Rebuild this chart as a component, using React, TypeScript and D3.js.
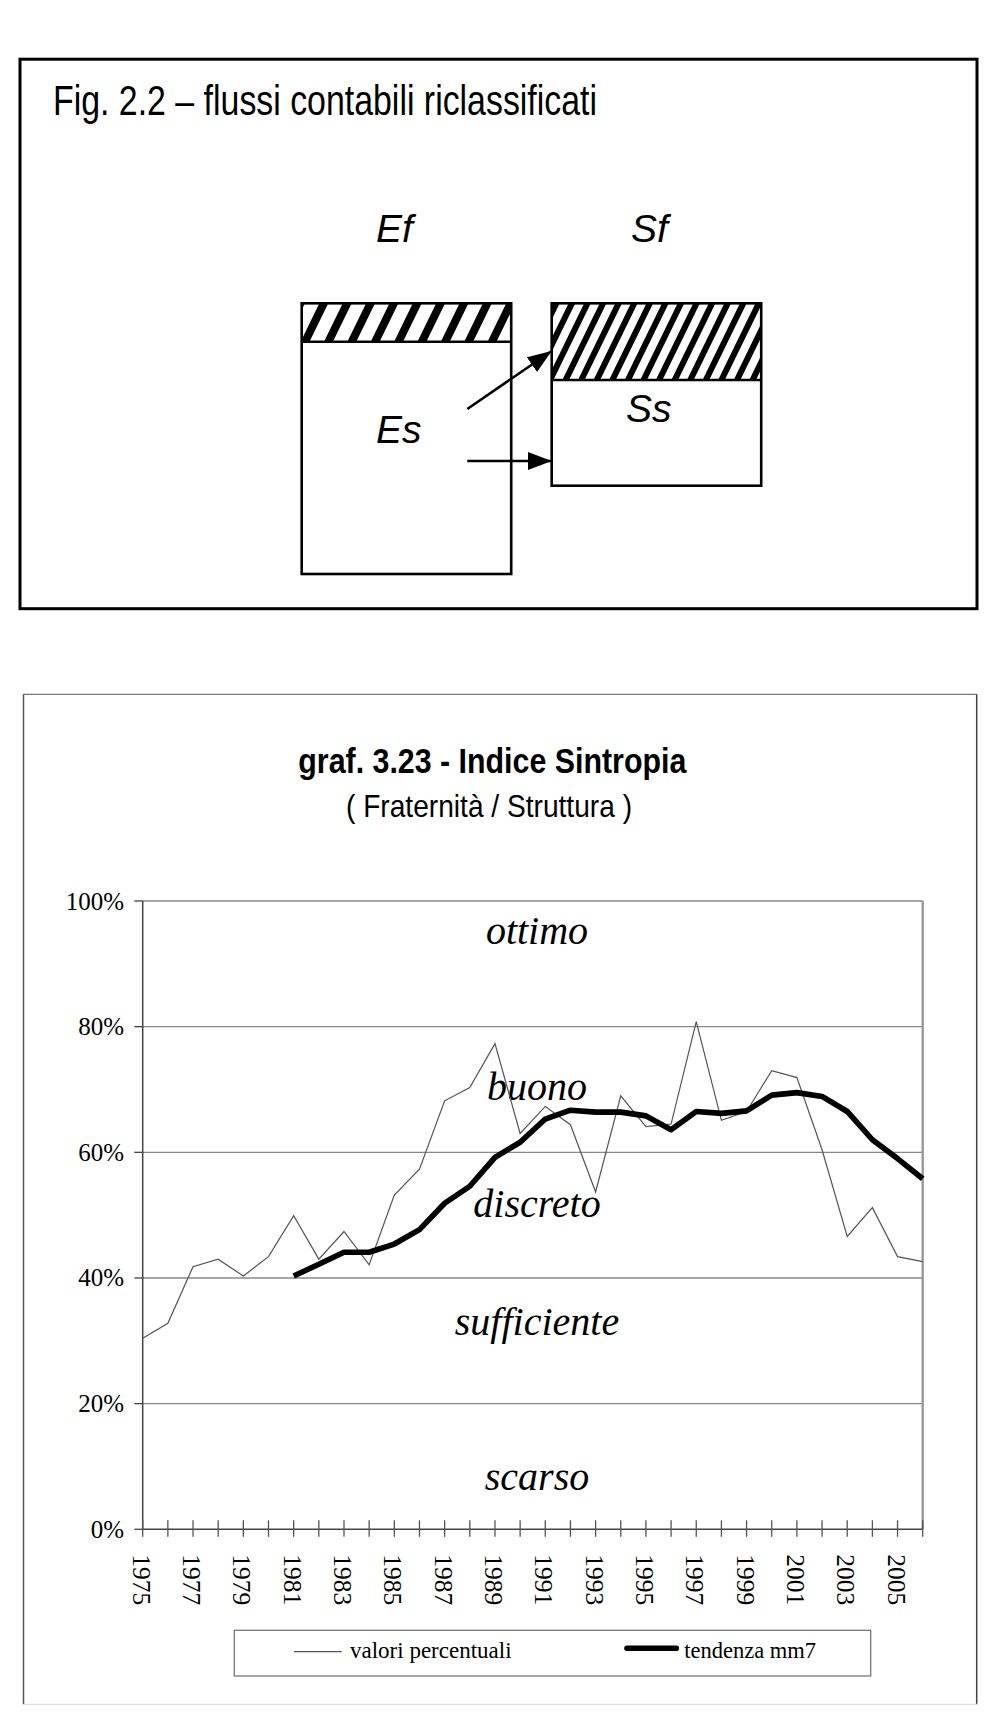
import * as d3 from 'd3'

// years on the category axis, one point per year
const years = d3.range(1975, 2007)
const yearLabels = years.filter(y => y % 2 === 1)

// thin line: yearly percentages
const valori = [
  30.4, 32.8, 41.8, 43.0, 40.3, 43.4, 49.9, 43.0, 47.4, 42.1,
  53.2, 57.3, 68.2, 70.3, 77.3, 63.0, 67.3, 64.4, 53.7, 69.0,
  64.1, 64.5, 80.8, 65.1, 66.5, 73.0, 71.9, 60.4, 46.6, 51.2,
  43.4, 42.6,
]

// thick line: 7-year moving average, starts in 1981
const tendenza: (number | null)[] = [
  null, null, null, null, null, null,
  40.3, 42.2, 44.1, 44.1, 45.4, 47.7, 51.9, 54.6, 59.2, 61.6,
  65.3, 66.7, 66.4, 66.4, 65.8, 63.6, 66.5, 66.2, 66.6, 69.1,
  69.5, 68.9, 66.5, 62.0, 59.0, 55.8,
]

const yTicks = [0, 20, 40, 60, 80, 100]

const bands = [
  { label: 'ottimo', at: 93.2 },
  { label: 'buono', at: 68.4 },
  { label: 'discreto', at: 49.7 },
  { label: 'sufficiente', at: 30.9 },
  { label: 'scarso', at: 6.2 },
]

const serif = '"Liberation Serif", "Times New Roman", serif'
const sans = '"Liberation Sans", Arial, sans-serif'
const narrow = '"Liberation Sans Narrow", "Arial Narrow", "Liberation Sans", Arial, sans-serif'

const FlowFigure = () => {
  return (
    <g>
      <defs>
        <pattern id="hatchA" patternUnits="userSpaceOnUse" width={21} height={40} patternTransform="rotate(26)">
          <rect x={0} y={0} width={8} height={40} fill="#000" />
        </pattern>
        <pattern id="hatchB" patternUnits="userSpaceOnUse" width={14} height={40} patternTransform="rotate(26)">
          <rect x={0} y={0} width={6} height={40} fill="#000" />
        </pattern>
        <marker id="arrow" markerUnits="userSpaceOnUse" markerWidth={24} markerHeight={18}
          refX={24} refY={9} orient="auto">
          <path d="M0,0 L24,9 L0,18 Z" fill="#000" />
        </marker>
      </defs>

      <rect x={20} y={59.2} width={957} height={549.5} fill="none" stroke="#000" strokeWidth={3} />
      <text x={53} y={115} fontFamily={narrow} fontSize={42} textLength={544} lengthAdjust="spacingAndGlyphs">
        Fig. 2.2 – flussi contabili riclassificati
      </text>

      <text x={376} y={242} fontFamily={sans} fontStyle="italic" fontSize={39}>Ef</text>
      <text x={631} y={242} fontFamily={sans} fontStyle="italic" fontSize={39}>Sf</text>

      {/* left box */}
      <rect x={301.7} y={303.3} width={209.5} height={38.4} fill="url(#hatchA)" />
      <rect x={301.7} y={303.3} width={209.5} height={270.7} fill="none" stroke="#000" strokeWidth={2.6} />
      <line x1={301.7} x2={511.2} y1={341.7} y2={341.7} stroke="#000" strokeWidth={2.6} />
      <text x={376} y={442.7} fontFamily={sans} fontStyle="italic" fontSize={39}>Es</text>

      {/* right box */}
      <rect x={551.7} y={303.3} width={209.5} height={76.7} fill="url(#hatchB)" />
      <rect x={551.7} y={303.3} width={209.5} height={182.4} fill="none" stroke="#000" strokeWidth={2.6} />
      <line x1={551.7} x2={761.2} y1={380} y2={380} stroke="#000" strokeWidth={2.6} />
      <text x={626} y={421.7} fontFamily={sans} fontStyle="italic" fontSize={39}>Ss</text>

      <line x1={467.3} y1={409} x2={551.7} y2={351} stroke="#000" strokeWidth={2.6} markerEnd="url(#arrow)" />
      <line x1={467.3} y1={461} x2={551.7} y2={461} stroke="#000" strokeWidth={2.6} markerEnd="url(#arrow)" />
    </g>
  )
}

const SintropiaChart = () => {
  const x = d3.scaleLinear().domain([1975, 2006]).range([142.7, 922.7])
  const y = d3.scaleLinear().domain([0, 100]).range([1529.3, 901])

  const thin = d3.line<number>()
    .x((_, i) => x(years[i]))
    .y(d => y(d))
  const thick = d3.line<number | null>()
    .defined(d => d !== null)
    .x((_, i) => x(years[i]))
    .y(d => y(d as number))

  const left = x.range()[0]
  const right = x.range()[1]
  const bottom = y(0)
  const mid = 537

  return (
    <g>
      {/* outer chart frame */}
      <line x1={23.5} x2={976.7} y1={694.3} y2={694.3} stroke="#777" strokeWidth={1.3} />
      <line x1={23.5} x2={23.5} y1={694.3} y2={1704.3} stroke="#555" strokeWidth={1.5} />
      <line x1={976.7} x2={976.7} y1={694.3} y2={1704.3} stroke="#444" strokeWidth={1.5} />
      <line x1={23.5} x2={976.7} y1={1704.3} y2={1704.3} stroke="#ddd" strokeWidth={1.3} />

      <text x={492.3} y={773.3} textAnchor="middle" fontFamily={sans} fontWeight="bold" fontSize={35}
        textLength={388} lengthAdjust="spacingAndGlyphs">
        graf. 3.23 - Indice Sintropia
      </text>
      <text x={489} y={816.7} textAnchor="middle" fontFamily={sans} fontSize={32}
        textLength={286} lengthAdjust="spacingAndGlyphs">
        ( Fraternità / Struttura )
      </text>

      {/* gridlines and y ticks */}
      {yTicks.map(t => (
        <g key={t}>
          {t > 0 && <line x1={left} x2={right} y1={y(t)} y2={y(t)} stroke="#888" strokeWidth={1.3} />}
          <line x1={left - 8.4} x2={left} y1={y(t)} y2={y(t)} stroke="#444" strokeWidth={1.3} />
          <text x={124} y={y(t)} textAnchor="end" dominantBaseline="central" fontFamily={serif} fontSize={25}>
            {t}%
          </text>
        </g>
      ))}

      <line x1={right} x2={right} y1={y(100)} y2={bottom} stroke="#999" strokeWidth={2.4} />

      {/* axes */}
      <line x1={left} x2={left} y1={y(100)} y2={bottom} stroke="#444" strokeWidth={1.5} />
      <line x1={left} x2={right} y1={bottom} y2={bottom} stroke="#444" strokeWidth={1.5} />
      {years.map(yr => (
        <line key={yr} x1={x(yr)} x2={x(yr)} y1={bottom - 9} y2={bottom + 7.5} stroke="#555" strokeWidth={1.3} />
      ))}
      {yearLabels.map(yr => (
        <text key={yr} transform={`translate(${x(yr) - 1.5},${bottom + 25}) rotate(90)`}
          dominantBaseline="central" fontFamily={serif} fontSize={25.5}>
          {yr}
        </text>
      ))}

      {/* band labels */}
      {bands.map(b => (
        <text key={b.label} x={mid} y={y(b.at)} textAnchor="middle" fontFamily={serif}
          fontStyle="italic" fontSize={40}>
          {b.label}
        </text>
      ))}

      {/* series */}
      <path d={thin(valori) ?? ''} fill="none" stroke="#555" strokeWidth={1.2} />
      <path d={thick(tendenza) ?? ''} fill="none" stroke="#000" strokeWidth={5.6} strokeLinejoin="round" />

      {/* legend */}
      <rect x={234.3} y={1630.3} width={636.4} height={45.7} fill="none" stroke="#777" strokeWidth={1.3} />
      <line x1={294} x2={341.7} y1={1651.7} y2={1651.7} stroke="#555" strokeWidth={1.2} />
      <text x={350} y={1658.3} fontFamily={serif} fontSize={23}>valori percentuali</text>
      <line x1={627} x2={676.3} y1={1648.3} y2={1648.3} stroke="#000" strokeWidth={5.6} strokeLinecap="round" />
      <text x={684.3} y={1658.3} fontFamily={serif} fontSize={22.5}>tendenza mm7</text>
    </g>
  )
}

export default function App() {
  return (
    <svg width={991} height={1723} viewBox="0 0 991 1723"
      style={{ position: 'absolute', left: 0, top: 0, background: '#fff' }}>
      <rect x={0} y={0} width={991} height={1723} fill="#fff" />
      <FlowFigure />
      <SintropiaChart />
    </svg>
  )
}
